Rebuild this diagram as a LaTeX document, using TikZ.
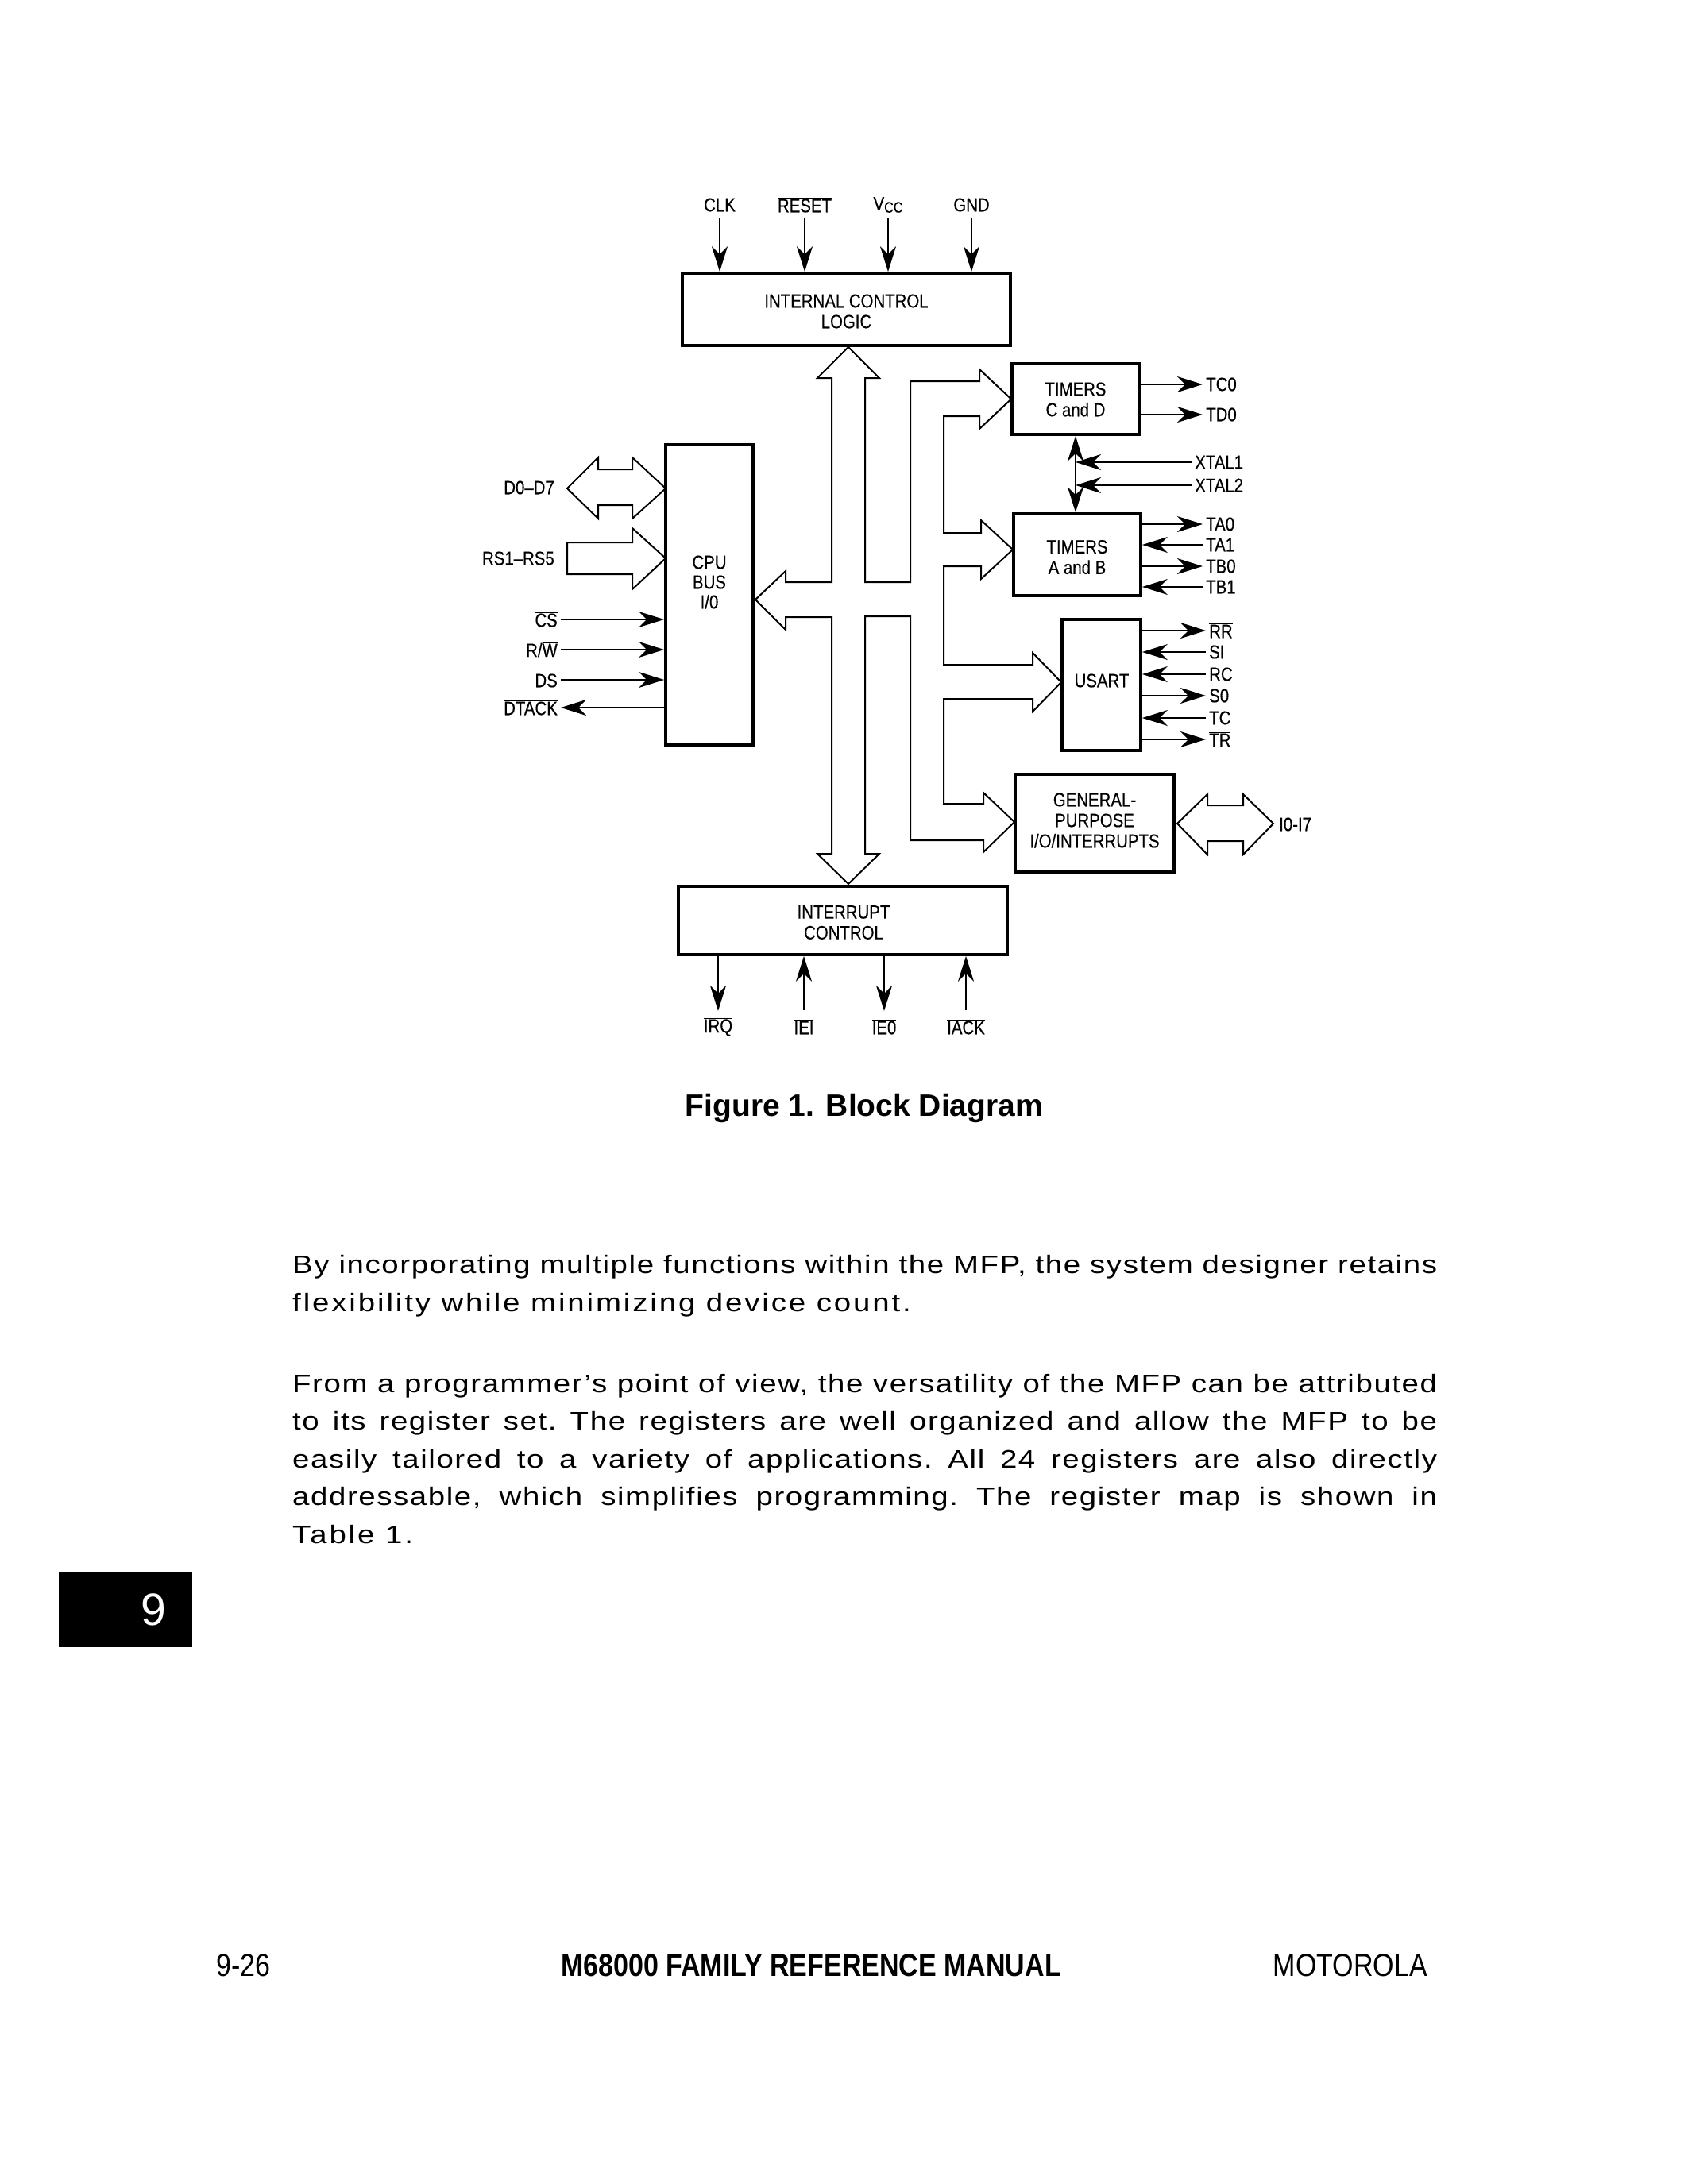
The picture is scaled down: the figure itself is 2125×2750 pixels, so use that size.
\documentclass[tikz,border=0pt]{standalone}
\usepackage{fontspec}
\setmainfont{Liberation Sans}
\newfontfamily\dfont[FakeStretch=0.85,FakeBold=0.3]{Liberation Sans}
\newfontfamily\ftfont[FakeStretch=0.85]{Liberation Sans}
\newfontfamily\bodyf[FakeStretch=1.2,LetterSpace=5]{Liberation Sans}
\newfontfamily\bodyw[FakeStretch=1.2,LetterSpace=9]{Liberation Sans}
\usetikzlibrary{arrows.meta}
\newcommand{\ovl}[1]{\ensuremath{\overline{\mbox{#1}}}}
\newcommand{\jline}[1]{\makebox[1441pt][s]{\frenchspacing\spaceskip=4pt plus 40pt minus 1pt\relax #1}}
\tikzset{tipS/.tip={Stealth[length=32pt,width=20pt,inset=10pt]}}
\begin{document}
\begin{tikzpicture}[x=1pt,y=-1pt,
  lbl/.style={font=\dfont\fontsize{24}{26}\selectfont, inner sep=4pt, align=center},
  blk/.style={draw, line width=3.8pt, inner sep=0pt},
  btxt/.style={font=\dfont\fontsize{24}{26}\selectfont, align=center, inner sep=0pt},
  sig/.style={line width=2.4pt, -tipS},
  sigb/.style={line width=2.4pt, tipS-tipS},
  bus/.style={line width=2pt, line join=miter},
  body/.style={anchor=base west, inner sep=0pt, font=\bodyf\fontsize{32}{40}\selectfont\frenchspacing},
  bodyl/.style={anchor=base west, inner sep=0pt, font=\bodyw\fontsize{32}{40}\selectfont\frenchspacing},
  foot/.style={inner sep=0pt, font=\ftfont\fontsize{40}{44}\selectfont}
]
\fill[white] (0,0) rectangle (2125,2750);
\useasboundingbox (0,0) rectangle (2125,2750);

% ---------- blocks ----------
\node[blk, minimum width=413pt, minimum height=91pt] (icl) at (1065.5,389.5) {};
\node[btxt] (iclT) at (1065.5,392) {INTERNAL CONTROL\\LOGIC};
\node[blk, minimum width=110pt, minimum height=378pt] (cpu) at (893,749) {};
\node[btxt, font=\dfont\fontsize{24}{25}\selectfont] (cpuT) at (893,733) {CPU\\BUS\\I/0};
\node[blk, minimum width=160pt, minimum height=89pt] (tcd) at (1354,502.5) {};
\node[btxt] (tcdT) at (1354,503) {TIMERS\\C and D};
\node[blk, minimum width=160pt, minimum height=103pt] (tab) at (1356,698.5) {};
\node[btxt] (tabT) at (1356,701.5) {TIMERS\\A and B};
\node[blk, minimum width=99pt, minimum height=165pt] (usart) at (1386.5,862.5) {};
\node[btxt] (usartT) at (1387,857) {USART};
\node[blk, minimum width=200pt, minimum height=123pt] (gp) at (1378,1036.5) {};
\node[btxt] (gpT) at (1378,1033) {GENERAL-\\PURPOSE\\I/O/INTERRUPTS};
\node[blk, minimum width=414pt, minimum height=86pt] (icb) at (1061,1159) {};
\node[btxt] (icbT) at (1062,1161.5) {INTERRUPT\\CONTROL};

% ---------- internal bus (hollow arrows) ----------
\draw[bus] (1068,437) -- (1107,476) -- (1089,476) -- (1089,733) -- (1146,733)
  -- (1146,480) -- (1233,480) -- (1233,465) -- (1273,502.5) -- (1233,540) -- (1233,524)
  -- (1188,524) -- (1188,671) -- (1235,671) -- (1235,655) -- (1275,692) -- (1235,729)
  -- (1235,713) -- (1188,713) -- (1188,837) -- (1300,837) -- (1300,822) -- (1336,859)
  -- (1300,896) -- (1300,880) -- (1188,880) -- (1188,1012) -- (1238,1012) -- (1238,998)
  -- (1277,1035) -- (1238,1073) -- (1238,1058) -- (1146,1058) -- (1146,776) -- (1089,776)
  -- (1089,1075) -- (1107,1075) -- (1068,1113) -- (1029,1075) -- (1047,1075) -- (1047,777)
  -- (989,777) -- (989,793) -- (951,755) -- (989,719) -- (989,733) -- (1047,733)
  -- (1047,476) -- (1029,476) -- cycle;

% D0-D7 bidirectional
\draw[bus] (714,615) -- (753,576) -- (753,591) -- (796,591) -- (796,576) -- (838,615)
  -- (796,653) -- (796,636) -- (753,636) -- (753,653) -- cycle;
% RS1-RS5
\draw[bus] (714,683) -- (796,683) -- (796,665) -- (838,703) -- (796,742) -- (796,723)
  -- (714,723) -- cycle;
% I0-I7
\draw[bus] (1482,1037) -- (1520,1000) -- (1520,1014) -- (1565,1014) -- (1565,1000)
  -- (1603,1037) -- (1565,1076) -- (1565,1059) -- (1520,1059) -- (1520,1076) -- cycle;

% ---------- top signals ----------
\node[lbl] (clk) at (906,258) {CLK};
\node[lbl] (rst) at (1013,258) {\ovl{RESET}};
\node[lbl] (vcc) at (1118,258) {V\raisebox{-3pt}{\fontsize{19}{19}\selectfont CC}};
\node[lbl] (gnd) at (1223,258) {GND};
\draw[sig] (clk |- 0,275) -- (clk |- icl.north);
\draw[sig] (rst |- 0,275) -- (rst |- icl.north);
\draw[sig] (vcc |- 0,275) -- (vcc |- icl.north);
\draw[sig] (gnd |- 0,275) -- (gnd |- icl.north);

% ---------- CPU side ----------
\node[lbl, anchor=east] (d07) at (702,614) {D0–D7};
\node[lbl, anchor=east] (rs) at (702,703) {RS1–RS5};
\node[lbl, anchor=east] (cs) at (706,780) {\ovl{CS}};
\node[lbl, anchor=east] (rw) at (706,818) {R/\ovl{W}};
\node[lbl, anchor=east] (ds) at (706,856) {\ovl{DS}};
\node[lbl, anchor=east] (dtack) at (706,891) {\ovl{DTACK}};
\draw[sig] (cs.east) -- (cs -| cpu.west);
\draw[sig] (rw.east) -- (rw -| cpu.west);
\draw[sig] (ds.east) -- (ds -| cpu.west);
\draw[sig] (dtack -| cpu.west) -- (dtack.east);

% ---------- timers C and D ----------
\node[lbl, anchor=west] (tc0) at (1514,484) {TC0};
\node[lbl, anchor=west] (td0) at (1514,522) {TD0};
\draw[sig] (tcd.east |- tc0) -- (tc0.west);
\draw[sig] (tcd.east |- td0) -- (td0.west);

% ---------- XTAL ----------
\node[lbl, anchor=west] (x1) at (1500,582) {XTAL1};
\node[lbl, anchor=west] (x2) at (1500,611) {XTAL2};
\draw[sigb] (tcd.south) -- (tcd.south |- tab.north);
\draw[sig] (x1.west) -- (x1 -| tcd.south);
\draw[sig] (x2.west) -- (x2 -| tcd.south);

% ---------- timers A and B ----------
\node[lbl, anchor=west] (ta0) at (1514,660) {TA0};
\node[lbl, anchor=west] (ta1) at (1514,686) {TA1};
\node[lbl, anchor=west] (tb0) at (1514,713) {TB0};
\node[lbl, anchor=west] (tb1) at (1514,739) {TB1};
\draw[sig] (tab.east |- ta0) -- (ta0.west);
\draw[sig] (ta1.west) -- (tab.east |- ta1);
\draw[sig] (tab.east |- tb0) -- (tb0.west);
\draw[sig] (tb1.west) -- (tab.east |- tb1);

% ---------- USART ----------
\node[lbl, anchor=west] (rr) at (1518,794) {\ovl{RR}};
\node[lbl, anchor=west] (si) at (1518,821) {SI};
\node[lbl, anchor=west] (rc) at (1518,849) {RC};
\node[lbl, anchor=west] (so) at (1518,876) {S0};
\node[lbl, anchor=west] (tc) at (1518,904) {TC};
\node[lbl, anchor=west] (tr) at (1518,931) {\ovl{TR}};
\draw[sig] (usart.east |- rr) -- (rr.west);
\draw[sig] (si.west) -- (usart.east |- si);
\draw[sig] (rc.west) -- (usart.east |- rc);
\draw[sig] (usart.east |- so) -- (so.west);
\draw[sig] (tc.west) -- (usart.east |- tc);
\draw[sig] (usart.east |- tr) -- (tr.west);

% ---------- GP I/O ----------
\node[lbl, anchor=west] (io) at (1606,1038) {I0-I7};

% ---------- interrupt control ----------
\node[lbl] (irq) at (904,1293) {\ovl{IRQ}};
\node[lbl] (iei) at (1012,1293) {\ovl{IEI}};
\node[lbl] (ieo) at (1113,1293) {\ovl{IE0}};
\node[lbl] (iack) at (1216,1293) {\ovl{IACK}};
\draw[sig] (irq |- icb.south) -- (irq |- 0,1273);
\draw[sig] (iei |- 0,1272) -- (iei |- icb.south);
\draw[sig] (ieo |- icb.south) -- (ieo |- 0,1273);
\draw[sig] (iack |- 0,1272) -- (iack |- icb.south);

% ---------- caption ----------
\node[font=\bfseries\fontsize{39}{44}\selectfont, inner sep=0pt] (cap) at (1088,1395) {Figure 1. Block Diagram};

% ---------- body text ----------
\node[body] (p1a) at (368,1603) {\jline{By incorporating multiple functions within the MFP, the system designer retains}};
\node[bodyl] (p1b) at (368,1651) {flexibility while minimizing device count.};
\node[body] (p2a) at (368,1753) {\jline{From a programmer’s point of view, the versatility of the MFP can be attributed}};
\node[body] (p2b) at (368,1800) {\jline{to its register set. The registers are well organized and allow the MFP to be}};
\node[body] (p2c) at (368,1848) {\jline{easily tailored to a variety of applications. All 24 registers are also directly}};
\node[body] (p2d) at (368,1895) {\jline{addressable, which simplifies programming. The register map is shown in}};
\node[bodyl] (p2e) at (368,1943) {Table 1.};

% ---------- thumb tab ----------
\node[fill=black, minimum width=168pt, minimum height=95pt, inner sep=0pt] (tab9) at (158,2026.5) {};
\node[text=white, font=\fontsize{57}{60}\selectfont, inner sep=0pt] (nine) at (193,2027) {9};

% ---------- footer ----------
\node[foot, anchor=base west] (pg) at (272,2488) {9-26};
\node[foot, anchor=base, font=\ftfont\bfseries\fontsize{40}{44}\selectfont] (man) at (1021,2488) {M68000 FAMILY REFERENCE MANUAL};
\node[foot, anchor=base east] (mot) at (1797,2488) {MOTOROLA};
\end{tikzpicture}
\end{document}
